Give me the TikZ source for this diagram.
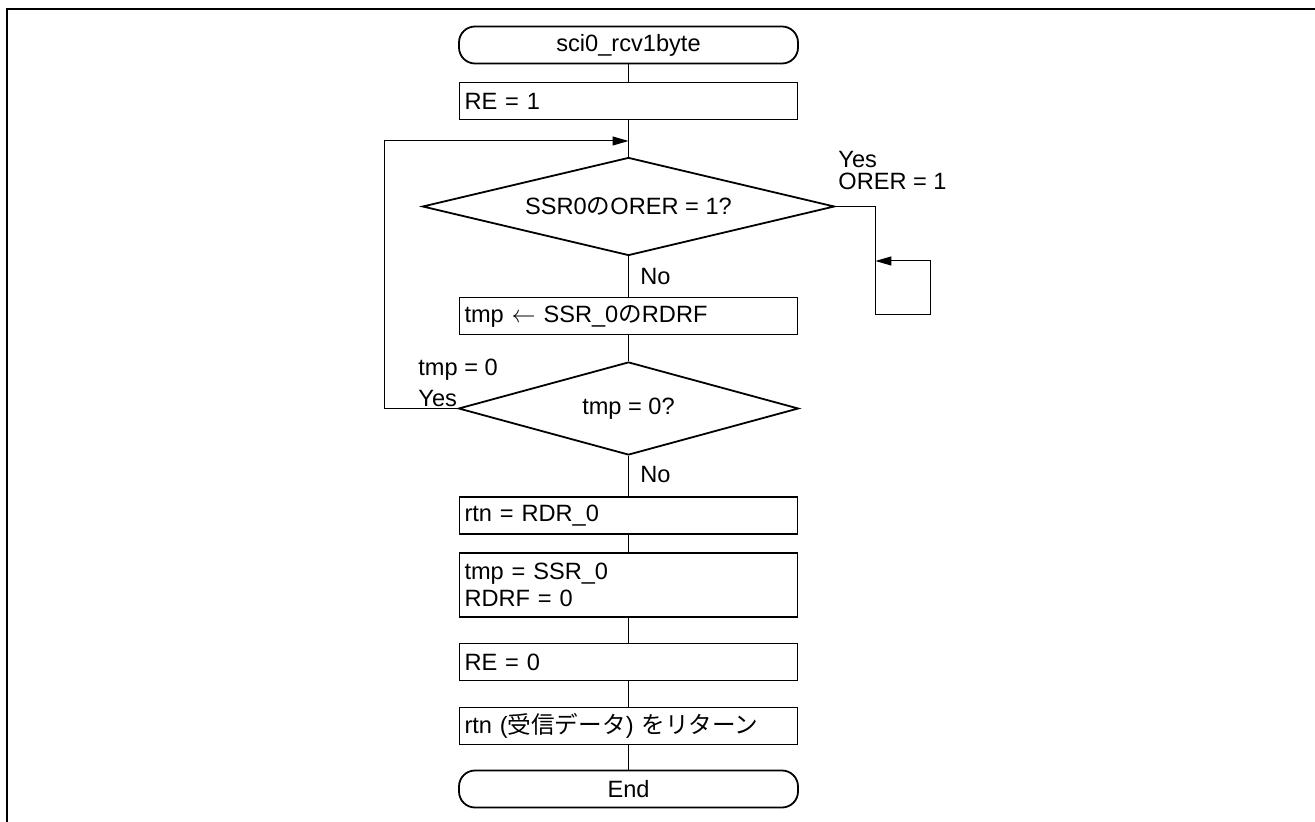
\documentclass[tikz,border=0pt]{standalone}
\usepackage{fontspec}
\setmainfont{Liberation Sans}
\newfontfamily\jpfont{Noto Sans CJK JP}
\usetikzlibrary{shapes.geometric,arrows.meta}
\tikzset{
  proc/.style={draw, line width=0.9pt, minimum width=169pt, minimum height=18.5pt, text width=164pt, align=left, inner xsep=2.5pt, inner ysep=0pt},
  term/.style={draw, line width=0.9pt, rounded corners=8pt, minimum width=169.5pt, minimum height=18.5pt, inner sep=0pt},
  decide/.style={draw, diamond, line width=0.9pt, inner sep=0pt},
  flow/.style={line width=0.5pt},
  tip/.style={-{Triangle[length=8pt,width=4.5pt]}},
  lbl/.style={inner sep=0pt, anchor=west}
}
\begin{document}
\begin{tikzpicture}[x=0.5pt, y=-0.5pt, every node/.style={font=\fontsize{11.8}{13.5}\selectfont}]
  \useasboundingbox (0,0) rectangle (1315,822);
  \draw[line width=1.1pt] (7,822) -- (7,9) -- (1315,9);

  \node[term] (start) at (628.5,45) {sci0\_rcv1byte};
  \node[proc] (re1) at (628.5,101) {RE = 1};
  \node[decide, aspect=4.2, minimum width=206pt, minimum height=49pt] (chkorer) at (628.5,206.5) {SSR0{\jpfont の}ORER = 1?};
  \node[proc] (getrdrf) at (628.5,316) {tmp $\leftarrow$ SSR\_0{\jpfont の}RDRF};
  \node[decide, aspect=3.66, minimum width=170pt, minimum height=46.5pt] (chkrdrf) at (628.5,408.5) {tmp = 0?};
  \node[proc] (rddata) at (628.5,515.5) {rtn = RDR\_0};
  \node[proc, minimum height=32pt] (clrrdrf) at (628.5,585) {tmp = SSR\_0\\RDRF = 0};
  \node[proc] (re0) at (628.5,662) {RE = 0};
  \node[proc] (ret) at (628.5,726) {rtn ({\jpfont 受信データ}) {\jpfont をリターン}};
  \node[term] (fin) at (628.5,789) {End};

  \node[lbl] (yeslbl1) at (838,160) {Yes};
  \node[lbl] (orerlbl) at (838,181) {ORER = 1};
  \node[lbl] (nolbl1) at (640,277) {No};
  \node[lbl] (tmplbl) at (418,370) {tmp = 0};
  \node[lbl] (yeslbl2) at (418,398) {Yes};
  \node[lbl] (nolbl2) at (640,474) {No};

  \coordinate (loopbot) at (384,408.5);
  \coordinate (looptop) at (384,141);
  \coordinate (mergept) at (628.5,141);

  \draw[flow] (start) -- (re1);
  \draw[flow] (re1.south) -- (chkorer.north);
  \draw[flow] (chkorer.south) -- (getrdrf.north);
  \draw[flow] (getrdrf.south) -- (chkrdrf.north);
  \draw[flow] (chkrdrf.south) -- (rddata.north);
  \draw[flow] (rddata) -- (clrrdrf);
  \draw[flow] (clrrdrf) -- (re0);
  \draw[flow] (re0) -- (ret);
  \draw[flow] (ret) -- (fin);
  % tmp = 0 -> back to the top
  \draw[flow, tip] (chkrdrf.west) -- (loopbot) -- (looptop) -- (mergept);
  % overrun: wait here
  \draw[flow, tip] (chkorer.east) -- ++(40,0) -- ++(0,108.5) -- ++(55,0) -- ++(0,-54) -- ++(-55,0);
\end{tikzpicture}
\end{document}
